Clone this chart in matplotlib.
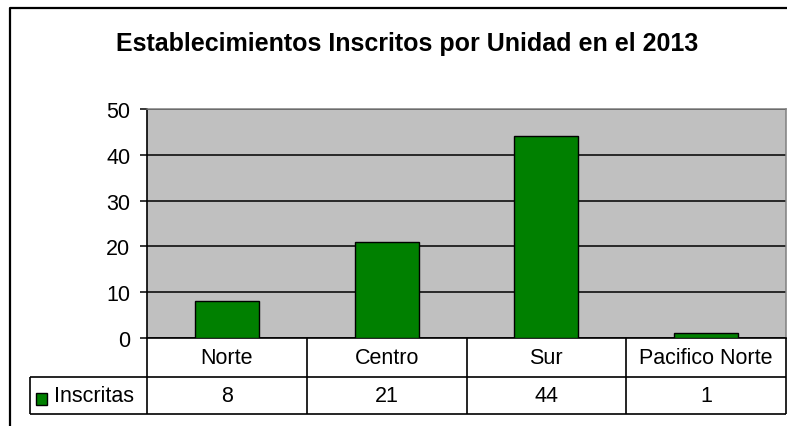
import matplotlib
matplotlib.use('Agg')
import matplotlib.pyplot as plt
from matplotlib.lines import Line2D
from matplotlib.patches import Rectangle
from matplotlib.transforms import blended_transform_factory

categories = ['Norte', 'Centro', 'Sur', 'Pacifico Norte']
inscritas = [8, 21, 44, 1]
series_name = 'Inscritas'
title = 'Establecimientos Inscritos por Unidad en el 2013'

W, H = 787, 427
plt.rcParams['font.family'] = ['Liberation Sans', 'DejaVu Sans']
FS = 15.5


def fx(px):
    return px / W


def fy(py):
    return 1 - py / H


fig = plt.figure(figsize=(W / 100, H / 100), dpi=100)
fig.patch.set_facecolor('white')

# plot area
ax = fig.add_axes([fx(147), fy(339), (786 - 147) / W, (339 - 110) / H])
ax.set_facecolor('#C0C0C0')
x = list(range(len(categories)))
ax.bar(x, inscritas, width=0.4, color='#008000', edgecolor='black', linewidth=1.0, zorder=3)
ax.set_xlim(-0.5, len(categories) - 0.5)
ax.set_ylim(0, 50)
ax.set_yticks(range(0, 51, 10))
ax.set_xticks([])
ax.yaxis.grid(True, color='black', linewidth=1.1)
ax.set_axisbelow(True)
ax.tick_params(axis='y', length=5, width=1.1, labelsize=FS, pad=7)
for s in ['left', 'bottom']:
    ax.spines[s].set_color('black')
    ax.spines[s].set_linewidth(1.2)
for s in ['top', 'right']:
    ax.spines[s].set_color('#808080')
    ax.spines[s].set_linewidth(1.1)

# title
fig.text(fx(407), fy(44), title, ha='center', va='center', fontsize=18, fontweight='bold')

# outer chart frame (cropped on right and bottom)
fig.add_artist(Line2D([fx(10), fx(10), fx(W)], [fy(H), fy(9), fy(9)],
                      transform=fig.transFigure, color='black', linewidth=1.6))

# data table
tr = blended_transform_factory(ax.transData, fig.transFigure)
lc = dict(color='black', linewidth=1.2, solid_capstyle='butt')
row1_top, row1_bot, row2_bot = 339, 378, 415
x0, x1 = -0.5, len(categories) - 0.5
fig.add_artist(Line2D([x0, x1], [fy(row1_bot), fy(row1_bot)], transform=tr, **lc))
fig.add_artist(Line2D([x0, x1], [fy(row2_bot), fy(row2_bot)], transform=tr, **lc))
for i in range(len(categories) + 1):
    fig.add_artist(Line2D([i - 0.5, i - 0.5], [fy(row1_top), fy(row2_bot)], transform=tr, **lc))
# legend cell
fig.add_artist(Line2D([fx(30), fx(147)], [fy(row1_bot), fy(row1_bot)], transform=fig.transFigure, **lc))
fig.add_artist(Line2D([fx(30), fx(147)], [fy(row2_bot), fy(row2_bot)], transform=fig.transFigure, **lc))
fig.add_artist(Line2D([fx(30), fx(30)], [fy(row1_bot), fy(row2_bot)], transform=fig.transFigure, **lc))
fig.add_artist(Rectangle((fx(36), fy(406)), fx(11), 12 / H, transform=fig.transFigure,
                         facecolor='#008000', edgecolor='black', linewidth=1.0))
fig.text(fx(54), fy(397), series_name, ha='left', va='center', fontsize=FS)

for i, (cat, v) in enumerate(zip(categories, inscritas)):
    fig.text(i, fy((row1_top + row1_bot) / 2), cat, transform=tr, ha='center', va='center', fontsize=FS)
    fig.text(i, fy((row1_bot + row2_bot) / 2), str(v), transform=tr, ha='center', va='center', fontsize=FS)

fig.savefig('out.png', dpi=100)
